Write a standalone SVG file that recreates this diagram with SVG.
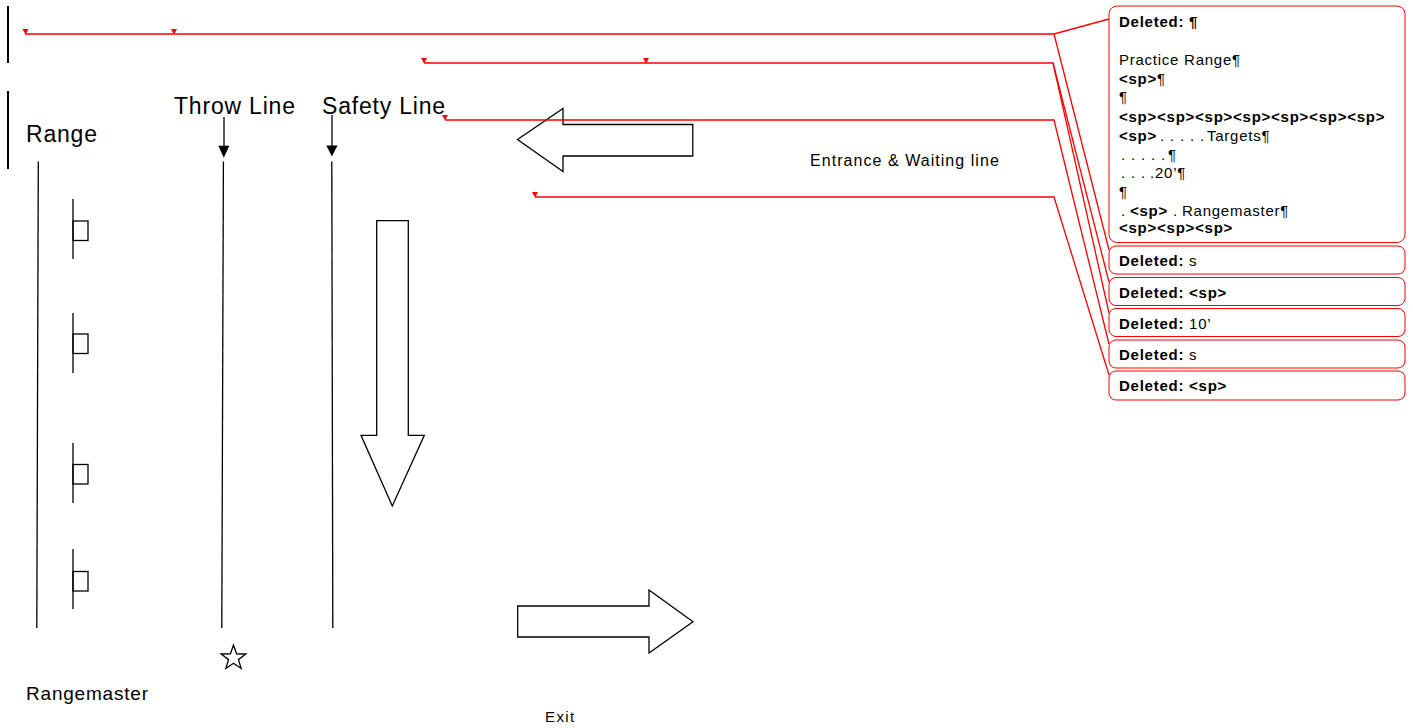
<svg xmlns="http://www.w3.org/2000/svg" width="1413" height="728" viewBox="0 0 1413 728">
<style>
.t{font-family:"Liberation Sans",Arial,sans-serif;fill:#000}
.big{font-size:23px;letter-spacing:0.8px}
.bx{font-size:15px;letter-spacing:0.75px}
.b{font-weight:bold}
.ln{stroke:#000;stroke-width:1.3;fill:none}
.sh{stroke:#000;stroke-width:1.3;fill:#fff}
.cm{stroke:#f00;stroke-width:1;fill:#fff}
.rc{stroke:#f00;stroke-width:1.3;fill:none}
.mk{fill:#f00}
</style>
<defs>
<marker id="ah" markerWidth="12" markerHeight="13" refX="6" refY="12" orient="auto" markerUnits="userSpaceOnUse" viewBox="0 0 12 13">
<path d="M0,0 L12,0 L6,12 Z" fill="#000"/>
</marker>
</defs>
<rect width="1413" height="728" fill="#fff"/>

<g id="margin-bars">
<line x1="8" y1="6" x2="8" y2="63" stroke="#000" stroke-width="2"/>
<line x1="8" y1="91" x2="8" y2="169" stroke="#000" stroke-width="2"/>
</g>

<g id="range-label"><text class="t big" x="26" y="142">Range</text></g>
<g id="throw-label"><text class="t big" x="174" y="114">Throw Line</text>
<line class="ln" x1="224" y1="117" x2="224" y2="146"/><polygon points="218.3,145.7 229.3,145.7 223.8,157.7" fill="#000"/></g>
<g id="safety-label"><text class="t big" x="322" y="114">Safety Line</text>
<line class="ln" x1="332" y1="115" x2="332" y2="146"/><polygon points="326.3,145.5 337.5,145.5 331.9,156.5" fill="#000"/></g>

<g id="range-line"><line class="ln" x1="38.3" y1="161.5" x2="36.8" y2="628"/></g>
<g id="throw-line"><line class="ln" x1="223.4" y1="161.5" x2="221.8" y2="628"/></g>
<g id="safety-line"><line class="ln" x1="331.8" y1="161.5" x2="332.8" y2="628"/></g>

<g id="target-1"><line class="ln" x1="73" y1="199" x2="73" y2="259"/><rect class="ln" x="73" y="221" width="15" height="19.5"/></g>
<g id="target-2"><line class="ln" x1="73" y1="313" x2="73" y2="373"/><rect class="ln" x="73" y="334" width="15" height="19.5"/></g>
<g id="target-3"><line class="ln" x1="73" y1="443" x2="73" y2="503"/><rect class="ln" x="73" y="464.5" width="15" height="19.5"/></g>
<g id="target-4"><line class="ln" x1="73" y1="549" x2="73" y2="609"/><rect class="ln" x="73" y="571.5" width="15" height="19.5"/></g>

<g id="rangemaster-star"><polygon class="ln" points="233.5,645 236.56,653.79 245.86,653.98 238.45,659.61 241.14,668.52 233.5,663.2 225.86,668.52 228.55,659.61 221.14,653.98 230.44,653.79"/></g>
<g id="rangemaster-label"><text class="t" x="26" y="700" style="font-size:19px;letter-spacing:0.8px">Rangemaster</text></g>

<g id="entrance-arrow"><polygon class="sh" points="517.5,139.5 563,108.5 563,124.5 692.8,124.5 692.8,156 563,156 563,171.5"/></g>
<g id="entrance-label"><text class="t" x="810" y="166" style="font-size:16px;letter-spacing:1.05px">Entrance &amp; Waiting line</text></g>
<g id="down-arrow"><polygon class="sh" points="376.7,220.7 408.3,220.7 408.3,435.3 424.3,435.3 392.3,506 361,435.3 376.7,435.3"/></g>
<g id="exit-arrow"><polygon class="sh" points="517.7,606 649,606 649,590 693,621.7 649,653 649,637 517.7,637"/></g>
<g id="exit-label"><text class="t" x="545" y="722" style="font-size:15px;letter-spacing:1.4px">Exit</text></g>

<g id="connectors">
<polyline class="rc" points="25,34 1054,34 1109,19"/>
<polyline class="rc" points="1054,34 1109,250"/>
<polyline class="rc" points="424,63 1053,63 1109,282"/>
<polyline class="rc" points="1053,63 1109,313"/>
<polyline class="rc" points="445,120 1054,120 1109,344"/>
<polyline class="rc" points="535,197 1054,197 1109,375"/>
<polygon class="mk" points="22.5,29 28.5,29 25.5,34.5"/>
<polygon class="mk" points="171,29 177,29 174,34.5"/>
<polygon class="mk" points="421,58 427,58 424,63.5"/>
<polygon class="mk" points="643,58 649,58 646,63.5"/>
<polygon class="mk" points="442,115 448,115 445,120.5"/>
<polygon class="mk" points="532,192 538,192 535,197.5"/>
</g>

<g id="comment-1">
<rect class="cm" x="1109" y="6" width="296" height="236.5" rx="8"/>
<text class="t bx b" x="1119" y="26.5">Deleted: ¶</text>
<text class="t bx" x="1119" y="65">Practice Range¶</text>
<text class="t bx" x="1119" y="84"><tspan class="b">&lt;sp&gt;</tspan>¶</text>
<text class="t bx" x="1119" y="102">¶</text>
<text class="t bx b" x="1119" y="121.5">&lt;sp&gt;&lt;sp&gt;&lt;sp&gt;&lt;sp&gt;&lt;sp&gt;&lt;sp&gt;&lt;sp&gt;</text>
<text class="t bx" y="140.5"><tspan class="b" x="1119">&lt;sp&gt;</tspan><tspan x="1160">.</tspan><tspan x="1170">.</tspan><tspan x="1180">.</tspan><tspan x="1190">.</tspan><tspan x="1200">.</tspan><tspan x="1207">Targets¶</tspan></text>
<text class="t bx" y="159.5"><tspan x="1121">.</tspan><tspan x="1131">.</tspan><tspan x="1141">.</tspan><tspan x="1151">.</tspan><tspan x="1161">.</tspan><tspan x="1168">¶</tspan></text>
<text class="t bx" y="178"><tspan x="1121">.</tspan><tspan x="1131">.</tspan><tspan x="1141">.</tspan><tspan x="1150">.</tspan><tspan x="1155">20’¶</tspan></text>
<text class="t bx" x="1119" y="196.5">¶</text>
<text class="t bx" y="216"><tspan x="1121">.</tspan><tspan class="b" x="1130">&lt;sp&gt;</tspan><tspan x="1173">.</tspan><tspan x="1182">Rangemaster¶</tspan></text>
<text class="t bx b" x="1119" y="233">&lt;sp&gt;&lt;sp&gt;&lt;sp&gt;</text>
</g>
<g id="comment-2"><rect class="cm" x="1109" y="246" width="296" height="28" rx="7"/><text class="t bx" x="1119" y="266"><tspan class="b">Deleted:</tspan> s</text></g>
<g id="comment-3"><rect class="cm" x="1109" y="277.5" width="296" height="28" rx="7"/><text class="t bx b" x="1119" y="297.5">Deleted: &lt;sp&gt;</text></g>
<g id="comment-4"><rect class="cm" x="1109" y="308.5" width="296" height="28" rx="7"/><text class="t bx" x="1119" y="328.5"><tspan class="b">Deleted:</tspan> 10’</text></g>
<g id="comment-5"><rect class="cm" x="1109" y="340" width="296" height="28" rx="7"/><text class="t bx" x="1119" y="360"><tspan class="b">Deleted:</tspan> s</text></g>
<g id="comment-6"><rect class="cm" x="1109" y="371" width="296" height="29" rx="7"/><text class="t bx b" x="1119" y="391">Deleted: &lt;sp&gt;</text></g>
</svg>
